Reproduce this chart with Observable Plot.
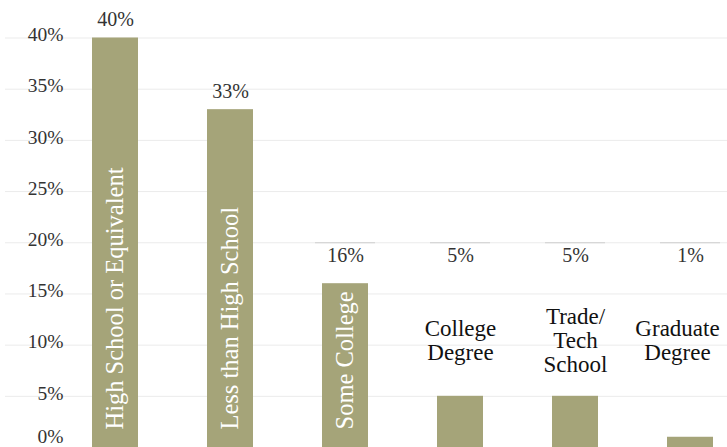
<!DOCTYPE html>
<html>
<head>
<meta charset="utf-8">
<script src="https://cdn.jsdelivr.net/npm/d3@7"></script>
<script src="https://cdn.jsdelivr.net/npm/@observablehq/plot@0.6"></script>
<style>
  html, body { margin: 0; padding: 0; background: #fff; }
  #chart { width: 727px; height: 447px; overflow: hidden; }
</style>
</head>
<body>
<div id="chart"></div>
<script>
// Data
const categories = ["High School or Equivalent", "Less than High School", "Some College", "College Degree", "Trade/ Tech School", "Graduate Degree"];
const displayNames = ["High School or Equivalent", "Less than High School", "Some College", "College\nDegree", "Trade/\nTech\nSchool", "Graduate\nDegree"];
const values = [40, 33, 16, 5, 5, 1];
const valueLabels = ["40%", "33%", "16%", "5%", "5%", "1%"];
const yTicks = [0, 5, 10, 15, 20, 25, 30, 35, 40];
const yTickLabels = ["0%", "5%", "10%", "15%", "20%", "25%", "30%", "35%", "40%"];

const rows = categories.map((c, i) => ({name: c, display: displayNames[i], value: values[i], label: valueLabels[i], last: i === categories.length - 1}));
const big = rows.filter(d => d.value >= 20);   // value label above bar
const small = rows.filter(d => d.value < 20);  // value label at fixed level
const inside = rows.filter(d => d.value >= 10); // name written inside bar
const outside = rows.filter(d => d.value < 10 && !d.last); // name written above bar
const outsideEdge = rows.filter(d => d.value < 10 && d.last); // nudged in from right edge
const tickRows = yTicks.map((t, i) => ({t, label: yTickLabels[i]}));

const smallLabelLevel = 20;
const nameLevel = 10.5;

const barColor = "#a5a479";
const font = "'Liberation Serif', 'DejaVu Serif', serif";

const tickStyle = {frameAnchor: "left", textAnchor: "end", dx: 58, fontSize: 19.5, fill: "#333"};
const nameStyle = {lineAnchor: "middle", lineHeight: 1.05, fontSize: 23, fill: "#111"};

const chart = Plot.plot({
  width: 727,
  height: 447,
  marginTop: 37.5,
  marginBottom: 0,
  marginLeft: 5,
  marginRight: 0,
  style: {fontFamily: font, background: "#fff", overflow: "visible"},
  x: {type: "band", domain: categories, range: [55.3, 748.9], paddingInner: 0.6, paddingOuter: 0.3, axis: null},
  y: {domain: [0, 40], axis: null},
  marks: [
    Plot.gridY(yTicks, {stroke: "#ebebeb", strokeOpacity: 1, strokeWidth: 1}),
    Plot.tickY(small, {x: "name", y: () => smallLabelLevel, stroke: "#cfcfcf", strokeWidth: 1, insetLeft: -7, insetRight: -7}),
    Plot.barY(rows, {x: "name", y: "value", fill: barColor}),
    Plot.text(tickRows.filter(d => d.t > 0), {y: "t", text: "label", dy: -3, ...tickStyle}),
    Plot.text(tickRows.filter(d => d.t === 0), {y: "t", text: "label", dy: -11, ...tickStyle}),
    Plot.text(big, {x: "name", y: "value", text: "label", lineAnchor: "bottom", dy: -12, fontSize: 20, fill: "#333"}),
    Plot.text(small, {x: "name", y: () => smallLabelLevel, text: "label", lineAnchor: "top", dy: 5, fontSize: 20, fill: "#333"}),
    Plot.text(inside, {x: "name", y: () => 0, text: "display", rotate: -90, textAnchor: "start", lineAnchor: "middle", dy: -18, fontSize: 24.5, fill: "#fff"}),
    Plot.text(outside, {x: "name", y: () => nameLevel, text: "display", ...nameStyle}),
    Plot.text(outsideEdge, {x: "name", y: () => nameLevel, text: "display", dx: -13, ...nameStyle})
  ]
});
document.getElementById("chart").appendChild(chart);
</script>
</body>
</html>
